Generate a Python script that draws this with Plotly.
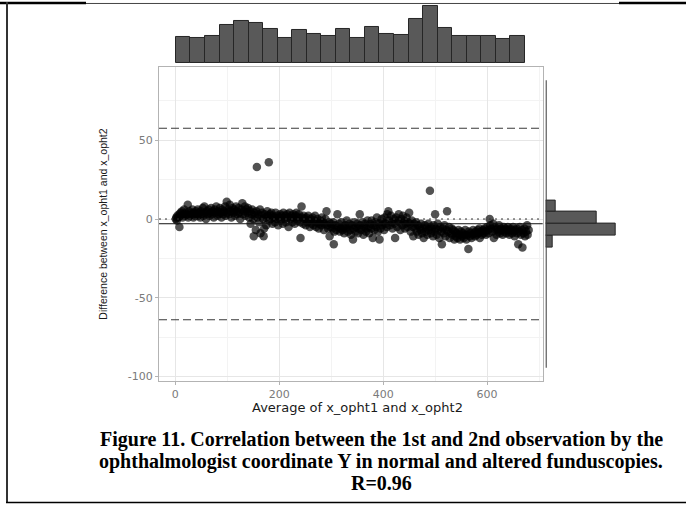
import plotly.graph_objects as go

W, H = 686, 507

# ---------------- data ----------------
avg_x = [
    1, 2, 3, 4, 6, 8, 8, 10, 11, 13, 14, 16, 17, 19, 20, 22, 24, 25, 27, 28, 30, 32, 33, 35, 36, 38, 40,
    41, 43, 44, 46, 48, 49, 51, 53, 54, 56, 57, 59, 61, 62, 64, 66, 67, 69, 71, 72, 74, 76, 77, 79, 81, 82, 84, 86, 87, 89, 91, 92, 94, 96, 97, 99, 100,
    102, 103, 105, 107, 108, 110, 112, 113, 115, 117, 118, 120, 122, 123, 125, 127, 129, 130, 132, 134, 135, 137, 139, 140, 142, 144, 145, 147, 148, 150,
    151, 152, 153, 155, 156, 157, 158, 160, 161, 163, 164, 166, 167, 169, 170, 171, 172, 174, 175, 177, 178, 180, 181, 182, 184, 185, 187, 188, 190, 192, 193, 195, 197, 198, 200,
    202, 203, 205, 207, 208, 210, 212, 213, 215, 217, 218, 220, 222, 223, 225, 227, 228, 230, 232, 233, 235, 237, 238, 240, 241, 243, 244, 246, 247, 249, 251, 252, 254, 256, 257, 259,
    261, 262, 264, 266, 267, 269, 271, 272, 274, 276, 277, 279, 281, 282, 284, 286, 287, 289, 291, 292, 294, 296, 297, 299, 300,
    302, 304, 305, 306, 308, 310, 312, 313, 315, 317, 318, 320, 322, 323, 325, 327, 328, 330, 332, 333, 335, 337, 338, 340, 342, 343, 345, 347, 348, 350, 352, 353, 355, 356, 358, 360, 362, 363, 365, 367, 368, 370,
    372, 373, 375, 377, 378, 380, 382, 383, 385, 387, 388, 390, 392, 393, 395, 397, 398, 400, 402, 403, 405, 407, 408, 410, 411, 413, 415, 417, 418, 420, 422, 423, 425, 427, 428, 430, 432, 433, 435, 437, 438, 440, 442, 443, 445, 447, 448, 450, 452, 453, 455, 457, 458, 460,
    462, 463, 465, 467, 468, 470, 472, 473, 475, 477, 478, 480, 482, 483, 485, 487, 488, 490, 491, 492, 494, 496, 497, 499, 500, 501, 503, 505, 506, 508, 510, 512, 513, 515, 517, 518, 520, 522, 523, 525, 527, 528, 530, 532, 533, 535, 537, 538, 540,
    542, 543, 545, 547, 548, 550, 552, 553, 555, 557, 558, 560, 562, 564, 565, 567, 568, 570, 572, 573, 575, 577, 578, 580, 582, 583, 585, 586, 588, 590, 592, 593, 595, 597, 598, 600,
    602, 603, 605, 606, 608, 610, 612, 613, 615, 617, 618, 620, 622, 623, 625, 627, 628, 630, 632, 633, 635, 637, 638, 640, 642, 643, 645, 647, 648, 650, 652, 653, 655, 657, 658, 660, 662, 663, 665, 667, 668, 670, 672, 673, 675, 677, 678, 680,
]
diff_y = [
    0, 1, -1, 2, 1, -5, 3, 4, 2, 5, 1, 3, 6, 2, 4, 3, 9, 1, 5, 2, 4, 3, 6, 1, 4, 2, 5,
    3, 6, 2, 4, 1, 5, 3, 7, 2, 8, 4, 0, 5, 3, 6, 2, 4, 7, 3, 5, 1, 6, 4, 8, 2, 5, 3, 7, 4, 1, 6, 3, 5, 8, 2, 11, 4,
    6, 3, 9, 5, 1, 7, 4, 6, 2, 8, 5, 3, 7, 4, 0, 6, 10, 3, 5, 8, 2, 6, 4, 7, 1, 5, -3, 3, 6, 0,
    -11, 4, 2, -7, 5, 33, 1, 3, -2, 6, -9, 2, 4, 0, -11, -6, 3, 1, -4, 5, 2, 36, -1, 3, 0, 4, -3, 2, 1, -2, 4, 0, 2, -4, 1,
    3, -1, 2, -3, 4, 0, 2, -2, 3, 1, -5, 4, 0, 2, -2, 3, 1, -3, 2, 4, -1, 1, 3, -2, -12, 8, 1, -3, 2, 0, -4, 1, -2, 2, -1, -5,
    0, -3, 1, -4, -1, 2, -5, -2, 0, -6, -3, -1, -4, 1, -2, -7, -3, 0, 5, -4, -6, -2, -11, -5, -3,
    -6, -2, -16, -8, -4, -7, 3, -5, -3, -8, -6, -2, -7, -5, -9, -4, -6, -1, -8, -5, -3, -7, -10, -4, -13, -6, -2, -8, -5, -3, -9, -6, 3, -4, -7, -2, -10, -5, -3, -8, -6, -1,
    -5, -9, -3, -6, -1, -12, -4, -7, -2, -5, 1, -8, -3, -13, -6, 0, -4, -2, -7, 1, -3, -5, 3, 5, -1, -4, 2, -2, -6, 0, -3, -12, 1, -5, -1, 3, -2, -7, 0, -4, 2, -1, -6, -3, 1, -5, -2, 4, -3, -8, -1, -5, -11, -3,
    -6, -2, -8, -4, -10, -5, -7, -3, -9, -6, -12, -4, -8, -5, -10, -3, -7, 18, -5, -9, -6, -11, -4, -8, 3, -6, -10, -3, -7, -12, -5, -8, -16, -6, -9, -4, -11, -7, 5, -8, -5, -12, -9, -6, -10, -7, -13, -8, -11,
    -9, -12, -7, -10, -13, -8, -11, -9, -12, -10, -7, -13, -10, -19, -8, -11, -9, -12, -10, -7, -9, -11, -8, -10, -7, -9, -6, -12, -8, -10, -7, -9, -6, -8, -10, -5,
    -7, -9, 0, -4, -6, -8, -3, -12, -5, -7, -10, -6, -8, -4, -9, -6, -7, -10, -5, -8, -6, -9, -7, -5, -8, -10, -6, -7, -9, -5, -8, -11, -7, -6, -9, -16, -8, -5, -10, -7, -18, -9, -6, -11, -8, -4, -10, -7,
]

mean_diff = -3.0
upper_loa = 57.6
lower_loa = -63.9

# top marginal histogram (x = average), 24 bins
top_bin_start = 1.3
top_bin_width = 27.97
top_counts = [26, 25, 27, 38, 42, 40, 34, 25, 33, 29, 27, 34, 25, 36, 29, 28, 44, 58, 35, 27, 27, 27, 24, 27]

# right marginal histogram (y = difference), 24 bins, only 4 non-empty
right_bin_start = -94.4
right_bin_width = 7.6
right_counts = [0] * 10 + [10, 102, 74, 15] + [0] * 10

x_ticks = [0, 200, 400, 600]
y_ticks = [-100, -50, 0, 50]
y_tick_text = ["-100", "-50", "0", "50"]

caption_lines = [
    "Figure 11. Correlation between the 1st and 2nd observation by the",
    "ophthalmologist coordinate Y in normal and altered funduscopies.",
    "R=0.96",
]

# ---------------- layout helpers (pixel -> paper) ----------------
def px(x):
    return x / W


def py(y):
    return 1 - y / H


X_RANGE = [-31.3, 707]
Y_RANGE = [-102.6, 96.7]

top_centers = [top_bin_start + top_bin_width * (i + 0.5) for i in range(len(top_counts))]
right_centers = [right_bin_start + right_bin_width * (i + 0.5) for i in range(len(right_counts))]
right_nz = [(c, v) for c, v in zip(right_centers, right_counts) if v > 0]

fig = go.Figure()

fig.add_trace(go.Scatter(
    x=avg_x, y=diff_y, mode="markers",
    marker=dict(size=8.5, color="rgba(0,0,0,0.68)", line=dict(width=0)),
    xaxis="x", yaxis="y", showlegend=False, hoverinfo="skip",
))

fig.add_trace(go.Bar(
    x=top_centers, y=top_counts, width=top_bin_width,
    marker=dict(color="#595959", line=dict(color="#262626", width=1)),
    xaxis="x2", yaxis="y2", showlegend=False, hoverinfo="skip",
))

fig.add_trace(go.Bar(
    y=[c for c, v in right_nz], x=[v for c, v in right_nz], width=right_bin_width,
    orientation="h",
    marker=dict(color="#595959", line=dict(color="#262626", width=1)),
    xaxis="x3", yaxis="y3", showlegend=False, hoverinfo="skip",
))

grid_major = "#e6e6e6"
grid_minor = "#f3f3f3"
border = "#b3b3b3"
tickfont = dict(family="DejaVu Sans, Liberation Sans, sans-serif", size=11, color="#7a7a7a")

fig.update_layout(
    width=W, height=H,
    margin=dict(l=0, r=0, t=0, b=0),
    paper_bgcolor="white", plot_bgcolor="rgba(0,0,0,0)",
    bargap=0,
    xaxis=dict(
        domain=[px(159), px(542.7)], range=X_RANGE, anchor="y",
        tickvals=x_ticks, ticks="outside", ticklen=3, tickcolor=border,
        tickfont=tickfont, showgrid=True, gridcolor=grid_major, gridwidth=1,
        minor=dict(dtick=100, tick0=0, showgrid=True, gridcolor=grid_minor, gridwidth=1, ticks=""),
        showline=True, mirror=True, linecolor=border, linewidth=1, zeroline=False,
    ),
    yaxis=dict(
        domain=[py(383), py(67)], range=Y_RANGE, anchor="x",
        tickvals=y_ticks, ticktext=y_tick_text, ticks="outside", ticklen=3, tickcolor=border,
        tickfont=tickfont, showgrid=True, gridcolor=grid_major, gridwidth=1,
        minor=dict(dtick=25, tick0=0, showgrid=True, gridcolor=grid_minor, gridwidth=1, ticks=""),
        showline=True, mirror=True, linecolor=border, linewidth=1, zeroline=False,
    ),
    xaxis2=dict(domain=[px(159), px(542.7)], range=X_RANGE, anchor="y2",
                visible=False, showgrid=False),
    yaxis2=dict(domain=[py(63.3), py(3)], range=[0, 60.7], anchor="x2",
                visible=False, showgrid=False),
    xaxis3=dict(domain=[px(545.7), px(625.7)], range=[0, 116.1], anchor="y3",
                visible=False, showgrid=False),
    yaxis3=dict(domain=[py(383), py(67)], range=Y_RANGE, anchor="x3",
                visible=False, showgrid=False),
)

shapes = []
# limits of agreement (dashed), mean (solid), zero (dotted)
for v in (upper_loa, lower_loa):
    shapes.append(dict(type="line", xref="x domain", yref="y", x0=0, x1=1, y0=v, y1=v,
                       line=dict(color="#3a3a3a", width=1.1, dash="8px,4px"), layer="above"))
shapes.append(dict(type="line", xref="x domain", yref="y", x0=0, x1=1, y0=mean_diff, y1=mean_diff,
                   line=dict(color="#111111", width=1), layer="above"))
shapes.append(dict(type="line", xref="x domain", yref="y", x0=0, x1=1, y0=0, y1=0,
                   line=dict(color="#333333", width=1, dash="2px,4px"), layer="above"))
# empty-bin outline line of the right marginal histogram
shapes.append(dict(type="line", xref="x3", yref="y3", x0=0, x1=0,
                   y0=right_bin_start, y1=right_bin_start + right_bin_width * len(right_counts),
                   line=dict(color="#3a3a3a", width=2)))
# page frame
shapes += [
    dict(type="line", xref="paper", yref="paper", x0=0, x1=px(86), y0=py(3), y1=py(3),
         line=dict(color="black", width=2.5)),
    dict(type="line", xref="paper", yref="paper", x0=px(86), x1=px(619), y0=py(3.5), y1=py(3.5),
         line=dict(color="#444444", width=1)),
    dict(type="line", xref="paper", yref="paper", x0=px(619), x1=1, y0=py(3), y1=py(3),
         line=dict(color="black", width=2.5)),
    dict(type="line", xref="paper", yref="paper", x0=px(7), x1=px(7), y0=py(2), y1=py(506),
         line=dict(color="#333333", width=2)),
    dict(type="line", xref="paper", yref="paper", x0=px(6), x1=1, y0=py(505.5), y1=py(505.5),
         line=dict(color="black", width=1.5)),
]
fig.update_layout(shapes=shapes)

annotations = [
    dict(text="Average of x_opht1 and x_opht2", xref="paper", yref="paper",
         x=px(357), y=py(410), showarrow=False, xanchor="center", yanchor="middle",
         font=dict(family="DejaVu Sans, Liberation Sans, sans-serif", size=13, color="#1a1a1a")),
    dict(text="Difference between x_opht1 and x_opht2", xref="paper", yref="paper",
         x=px(103), y=py(225), showarrow=False, xanchor="center", yanchor="middle", textangle=-90,
         font=dict(family="Liberation Sans, Arial, sans-serif", size=10.5, color="#1a1a1a")),
]
for i, line in enumerate(caption_lines):
    annotations.append(dict(
        text="<b>" + line + "</b>", xref="paper", yref="paper",
        x=px(381), y=py(442 + 22 * i), showarrow=False, xanchor="center", yanchor="middle",
        font=dict(family="Liberation Serif, Times New Roman, serif", size=20, color="black"),
    ))
fig.update_layout(annotations=annotations)

fig.write_html(
    "out.html",
    config={"displayModeBar": False},
    post_script="document.body.style.margin='0';document.body.style.overflow='hidden';",
)
